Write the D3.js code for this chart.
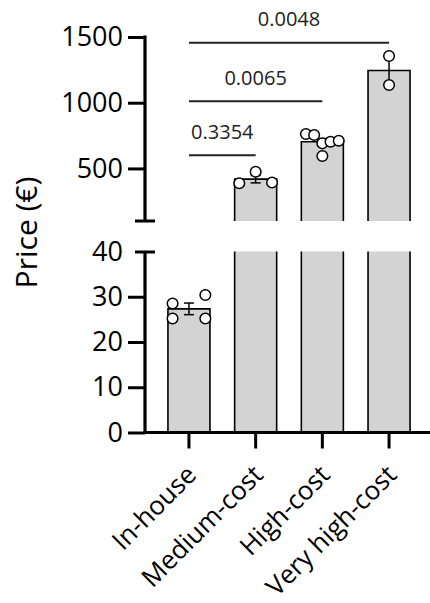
<!DOCTYPE html>
<html>
<head>
<meta charset="utf-8">
<script src="https://cdn.jsdelivr.net/npm/d3@7"></script>
<style>
  html, body { margin: 0; padding: 0; background: #fff; }
  svg { display: block; font-family: "Open Sans", "Noto Sans", sans-serif; }
</style>
</head>
<body>
<svg id="chart" width="430" height="603"></svg>
<script>
// ---- data ----
const categories = ["In-house", "Medium-cost", "High-cost", "Very high-cost"];
const inHouse = [28.5, 25.2, 30.4, 25.2];
const mediumCost = [387, 475, 393];
const highCost = [762, 754, 691, 703, 711, 595];
const veryHighCost = [1355, 1135];
const groups = [inHouse, mediumCost, highCost, veryHighCost];
const topTicks = [500, 1000, 1500];
const bottomTicks = [0, 10, 20, 30, 40];
const comparisonTargets = ["Medium-cost", "High-cost", "Very high-cost"];
const pValues = ["0.3354", "0.0065", "0.0048"];
const bracketLevels = [600, 1012, 1457];
const yTitle = "Price (€)";

// ---- layout ----
const svg = d3.select("#chart");
const axisX = 145;
const yTop = d3.scaleLinear().domain([100, 1500]).range([221, 37]);
const yBot = d3.scaleLinear().domain([0, 40]).range([432.5, 251.5]);
const x = d3.scaleBand().domain(categories).range([145, 433])
  .paddingInner(0.37).paddingOuter(0.344);
const yAny = v => v > 40 ? yTop(v) : yBot(v);
const bw = x.bandwidth();

const barFill = "#d3d3d3";
const ink = "#000";

// ---- bars ----
const stats = groups.map((vals, i) => {
  const m = d3.mean(vals);
  const sd = d3.deviation(vals);
  return { cat: categories[i], vals, mean: m, sem: sd / Math.sqrt(vals.length) };
});

const barG = svg.append("g");
stats.forEach(s => {
  const x0 = x(s.cat), x1 = x0 + bw;
  if (s.mean <= 40) {
    const yt = yBot(s.mean);
    barG.append("rect").attr("x", x0).attr("y", yt).attr("width", bw)
      .attr("height", yBot(0) - yt).attr("fill", barFill);
    barG.append("path").attr("d", `M${x0},${yBot(0)}V${yt}H${x1}V${yBot(0)}`)
      .attr("fill", "none").attr("stroke", ink).attr("stroke-width", 1.6);
  } else {
    barG.append("rect").attr("x", x0).attr("y", yBot(40)).attr("width", bw)
      .attr("height", yBot(0) - yBot(40)).attr("fill", barFill);
    barG.append("path").attr("d", `M${x0},${yBot(0)}V${yBot(40)}M${x1},${yBot(40)}V${yBot(0)}`)
      .attr("fill", "none").attr("stroke", ink).attr("stroke-width", 1.6);
    const yt = yTop(s.mean);
    barG.append("rect").attr("x", x0).attr("y", yt).attr("width", bw)
      .attr("height", yTop(100) - yt).attr("fill", barFill);
    barG.append("path").attr("d", `M${x0},${yTop(100)}V${yt}H${x1}V${yTop(100)}`)
      .attr("fill", "none").attr("stroke", ink).attr("stroke-width", 1.6);
  }
});

// ---- error bars (mean ± SEM) ----
const errG = svg.append("g").attr("stroke", ink).attr("stroke-width", 1.5);
stats.forEach(s => {
  const cx = x(s.cat) + bw / 2;
  const lo = yAny(s.mean - s.sem), hi = yAny(s.mean + s.sem);
  errG.append("line").attr("x1", cx).attr("x2", cx).attr("y1", lo).attr("y2", hi);
  errG.append("line").attr("x1", cx - 5).attr("x2", cx + 5).attr("y1", hi).attr("y2", hi);
  errG.append("line").attr("x1", cx - 5).attr("x2", cx + 5).attr("y1", lo).attr("y2", lo);
});

// ---- points (clustered dodge) ----
const spread = bw * 0.78;
const thr = 12;
function dodge(vals) {
  const pts = vals.map((v, i) => ({ v, i, py: yAny(v), off: 0 }));
  const sorted = pts.slice().sort((a, b) => a.py - b.py);
  const clusters = [];
  let cur = [sorted[0]];
  for (let k = 1; k < sorted.length; k++) {
    if (sorted[k].py - sorted[k - 1].py < thr) cur.push(sorted[k]);
    else { clusters.push(cur); cur = [sorted[k]]; }
  }
  clusters.push(cur);
  clusters.forEach(c => {
    c.sort((a, b) => a.i - b.i);
    const n = c.length;
    c.forEach((p, j) => { p.off = n > 1 ? (j / (n - 1) - 0.5) * spread : 0; });
  });
  return pts;
}
const ptG = svg.append("g");
stats.forEach(s => {
  const cx = x(s.cat) + bw / 2;
  dodge(s.vals).forEach(p => {
    ptG.append("circle").attr("cx", cx + p.off).attr("cy", p.py).attr("r", 5.3)
      .attr("fill", "#fff").attr("stroke", ink).attr("stroke-width", 1.5);
  });
});

// ---- y axes ----
const fmt = d3.format("d");
const topAxis = svg.append("g").attr("transform", `translate(${axisX},0)`)
  .call(d3.axisLeft(yTop).tickValues(topTicks).tickFormat(fmt).tickSize(17).tickPadding(5));
const botAxis = svg.append("g").attr("transform", `translate(${axisX},0)`)
  .call(d3.axisLeft(yBot).tickValues(bottomTicks).tickFormat(fmt).tickSize(17).tickPadding(5));
[topAxis, botAxis].forEach(g => {
  g.select(".domain").remove();
  g.selectAll(".tick line").attr("stroke", ink).attr("stroke-width", 3);
  g.selectAll(".tick text").attr("font-size", 27).attr("fill", ink)
    .attr("font-family", "'Open Sans', sans-serif");
});
botAxis.selectAll(".tick").filter(d => d === 40).select("line")
  .attr("x1", -10).attr("x2", 10);
svg.append("line").attr("x1", axisX).attr("x2", axisX)
  .attr("y1", yTop(1500) - 1.5).attr("y2", yTop(100))
  .attr("stroke", ink).attr("stroke-width", 3.2);
svg.append("line").attr("x1", axisX - 10).attr("x2", axisX + 10)
  .attr("y1", yTop(100)).attr("y2", yTop(100))
  .attr("stroke", ink).attr("stroke-width", 3);
svg.append("line").attr("x1", axisX).attr("x2", axisX)
  .attr("y1", yBot(40)).attr("y2", yBot(0))
  .attr("stroke", ink).attr("stroke-width", 3.2);

// ---- x axis ----
const xAxis = svg.append("g").attr("transform", `translate(0,${yBot(0)})`)
  .call(d3.axisBottom(x).tickSize(16).tickSizeOuter(0));
xAxis.select(".domain").remove();
xAxis.selectAll(".tick line").attr("stroke", ink).attr("stroke-width", 3);
xAxis.selectAll(".tick text")
  .attr("font-size", 26).attr("fill", ink)
  .attr("font-family", "'Open Sans', sans-serif")
  .attr("text-anchor", "end")
  .attr("y", 0).attr("dy", 0)
  .attr("transform", "translate(9,44) rotate(-45)");
svg.append("line").attr("x1", axisX).attr("x2", 430)
  .attr("y1", yBot(0)).attr("y2", yBot(0))
  .attr("stroke", ink).attr("stroke-width", 3);

// ---- y title ----
svg.append("text")
  .attr("transform", "translate(36.5,232.5) rotate(-90)")
  .attr("text-anchor", "middle")
  .attr("font-size", 30).attr("fill", ink)
  .text(yTitle);

// ---- significance brackets ----
const brG = svg.append("g");
comparisonTargets.forEach((t, i) => {
  const xa = x(categories[0]) + bw / 2, xb = x(t) + bw / 2;
  const yy = yTop(bracketLevels[i]);
  brG.append("line").attr("x1", xa).attr("x2", xb).attr("y1", yy).attr("y2", yy)
    .attr("stroke", "#222").attr("stroke-width", 2);
  brG.append("text").attr("x", (xa + xb) / 2).attr("y", yy - 16.5)
    .attr("text-anchor", "middle").attr("font-size", 20).attr("fill", "#222")
    .text(pValues[i]);
});
</script>
</body>
</html>
